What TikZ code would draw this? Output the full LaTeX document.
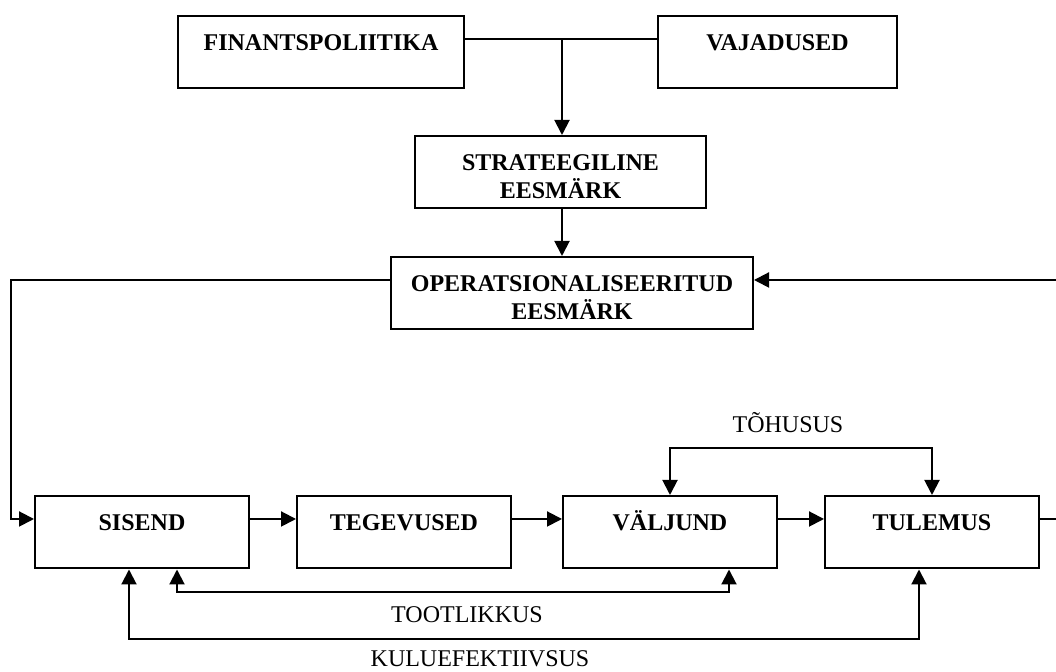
\documentclass[tikz,border=0pt]{standalone}
\usepackage{fontspec}
\setmainfont{Liberation Serif}
\usetikzlibrary{arrows.meta}
\begin{document}
\begin{tikzpicture}[x=0.5pt,y=0.5pt,
  box/.style={draw,line width=1pt,anchor=north west,inner xsep=0pt,inner ysep=0pt,
    align=center,text height=17.5pt,text depth=18.75pt,
    font=\fontsize{12}{14}\selectfont\bfseries},
  lbl/.style={anchor=base,inner sep=0pt,font=\fontsize{12}{14}\selectfont},
  conn/.style={line width=1pt},
  arr/.style={conn,-{Triangle[length=7.5pt,width=7.5pt]}},
  arrs/.style={conn,{Triangle[length=7.5pt,width=7.5pt]}-{Triangle[length=7.5pt,width=7.5pt]}}]
\path[use as bounding box,fill=white] (0,0) rectangle (1056,672);

% upper boxes
\node[box,text width=143pt] (fin) at (177,657) {FINANTSPOLIITIKA};
\node[box,text width=119.5pt] (vaj) at (657,657) {VAJADUSED};
\node[box,text width=145.5pt] (strat) at (414,537) {STRATEEGILINE\\EESMÄRK};
\node[box,text width=181pt] (oper) at (390,416) {OPERATSIONALISEERITUD\\EESMÄRK};

% lower row
\node[box,text width=107pt] (sisend) at (34,177) {SISEND};
\node[box,text width=107pt] (tegev) at (296,177) {TEGEVUSED};
\node[box,text width=107pt] (valj) at (562,177) {VÄLJUND};
\node[box,text width=107pt] (tulem) at (824,177) {TULEMUS};

% helper coordinates
\coordinate (jn) at (562,633);
\coordinate (fl) at (11,392);
\coordinate (fr) at (1062,392);
\coordinate (row) at (0,153);
\coordinate (th) at (0,224);
\coordinate (tl) at (177,80);
\coordinate (tr) at (729,80);
\coordinate (kl) at (129,33);
\coordinate (kr) at (919,33);

% top connectors
\draw[conn] (fin.east |- jn) -- (vaj.west |- jn);
\draw[arr] (jn) -- (jn |- strat.north);
\draw[arr] (jn |- strat.south) -- (jn |- oper.north);

% feedback loops
\draw[arr] (oper.west |- fl) -- (fl) |- (sisend.west |- row);
\draw[arr] (tulem.east |- row) -| (fr) -- (oper.east |- fr);

% main chain
\draw[arr] (sisend.east |- row) -- (tegev.west |- row);
\draw[arr] (tegev.east |- row) -- (valj.west |- row);
\draw[arr] (valj.east |- row) -- (tulem.west |- row);

% measures
\draw[arrs] (valj.north) -- (valj.north |- th) -- (tulem.north |- th) -- (tulem.north);
\draw[arrs] (sisend.south -| tl) -- (tl) -- (tr) -- (valj.south -| tr);
\draw[arrs] (sisend.south -| kl) -- (kl) -- (kr) -- (tulem.south -| kr);

\node[lbl] (tohusus) at (788,239) {TÕHUSUS};
\node[lbl] (tootl) at (467,49) {TOOTLIKKUS};
\node[lbl] (kulu) at (480,5) {KULUEFEKTIIVSUS};
\end{tikzpicture}
\end{document}
